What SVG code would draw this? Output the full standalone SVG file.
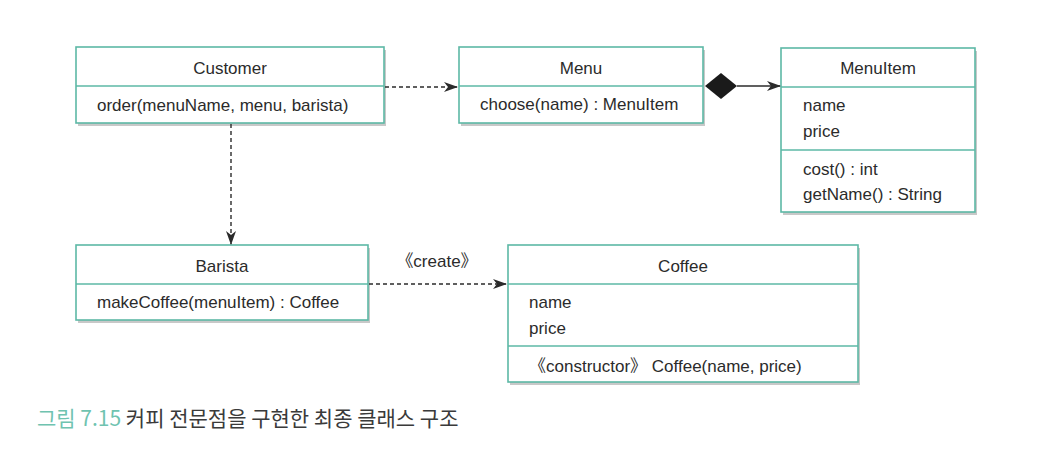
<svg xmlns="http://www.w3.org/2000/svg" width="1053" height="453" viewBox="0 0 1053 453">
<defs>
<style>
.box{fill:#fff;stroke:#5db8a6;stroke-width:1.6}
.div{stroke:#5db8a6;stroke-width:1.6}
.t{font-family:"Liberation Sans","Noto Sans CJK KR",sans-serif;font-size:17px;fill:#2b2b2b}
.c{text-anchor:middle}
.dash{fill:none;stroke:#2b2b2b;stroke-width:1.4;stroke-dasharray:4 3}
.solid{fill:none;stroke:#2b2b2b;stroke-width:1.4}
.shadow{fill:#c8c8c8}
</style>
<marker id="arr" markerWidth="14" markerHeight="10" refX="13" refY="5" orient="auto" markerUnits="userSpaceOnUse">
<path d="M0,0 L14,5 L0,10 L4,5 Z" fill="#2b2b2b"/>
</marker>
</defs>
<rect width="1053" height="453" fill="#fff"/>

<g id="customer">
<rect class="shadow" x="78" y="50" width="308" height="76"/>
<rect class="box" x="76" y="47" width="308" height="76"/>
<line class="div" x1="76" y1="86" x2="384" y2="86"/>
<text class="t c" x="230" y="74">Customer</text>
<text class="t" x="97" y="111">order(menuName, menu, barista)</text>
</g>

<g id="menu">
<rect class="shadow" x="461" y="50" width="244" height="76"/>
<rect class="box" x="459" y="47" width="244" height="76"/>
<line class="div" x1="459" y1="86" x2="703" y2="86"/>
<text class="t c" x="581" y="74">Menu</text>
<text class="t" x="480" y="110">choose(name) : MenuItem</text>
</g>

<g id="menuitem">
<rect class="shadow" x="783" y="51" width="194" height="164"/>
<rect class="box" x="781" y="48" width="194" height="164"/>
<line class="div" x1="781" y1="87" x2="975" y2="87"/>
<line class="div" x1="781" y1="150" x2="975" y2="150"/>
<text class="t c" x="878" y="74">MenuItem</text>
<text class="t" x="803" y="111">name</text>
<text class="t" x="803" y="137">price</text>
<text class="t" x="803" y="175">cost() : int</text>
<text class="t" x="803" y="200">getName() : String</text>
</g>

<g id="barista">
<rect class="shadow" x="78" y="248" width="292" height="75"/>
<rect class="box" x="76" y="245" width="292" height="75"/>
<line class="div" x1="76" y1="284" x2="368" y2="284"/>
<text class="t c" x="222" y="272">Barista</text>
<text class="t" x="97" y="308">makeCoffee(menuItem) : Coffee</text>
</g>

<g id="coffee">
<rect class="shadow" x="510" y="248" width="350" height="137"/>
<rect class="box" x="508" y="245" width="350" height="137"/>
<line class="div" x1="508" y1="284" x2="858" y2="284"/>
<line class="div" x1="508" y1="346" x2="858" y2="346"/>
<text class="t c" x="683" y="272">Coffee</text>
<text class="t" x="529" y="308">name</text>
<text class="t" x="529" y="334">price</text>
<text class="t" x="529" y="372">《constructor》 Coffee(name, price)</text>
</g>

<g id="connectors">
<line class="dash" x1="385" y1="87" x2="457" y2="87" marker-end="url(#arr)"/>
<line class="dash" x1="231" y1="124" x2="231" y2="244" marker-end="url(#arr)"/>
<line class="dash" x1="369" y1="284" x2="506" y2="284" marker-end="url(#arr)"/>
<path d="M705,86 L721,73 L737,86 L721,99 Z" fill="#1a1a1a"/>
<line class="solid" x1="737" y1="86" x2="780" y2="86" marker-end="url(#arr)"/>
<text class="t c" x="437" y="267">《create》</text>
</g>

<g id="caption">
<text x="37" y="426" font-family="'Noto Sans CJK KR',sans-serif" font-size="21" fill="#3a3a3a"><tspan fill="#6fc3b0">그림 7.15</tspan> 커피 전문점을 구현한 최종 클래스 구조</text>
</g>
</svg>
